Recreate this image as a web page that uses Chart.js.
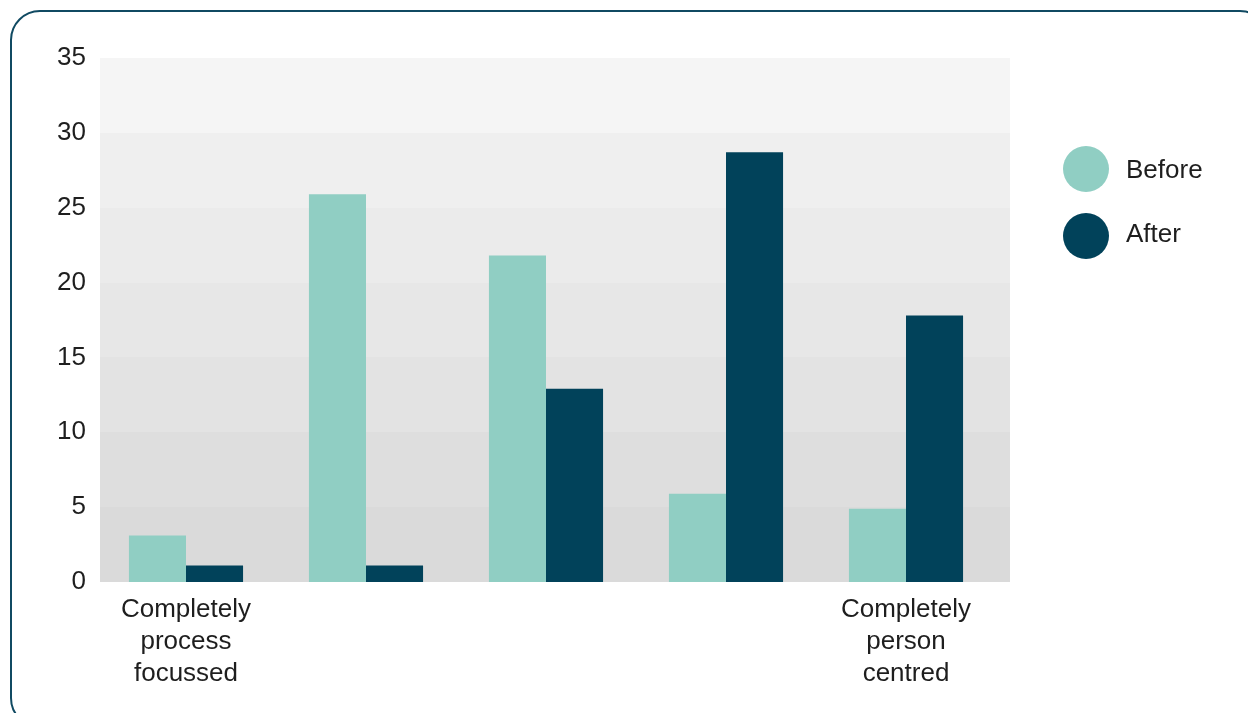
<!DOCTYPE html>
<html lang="en">
<head>
    <meta charset="UTF-8">
    <title>Before and after</title>
    <script src="https://cdn.jsdelivr.net/npm/chart.js"></script>
    <style>
        body {
            margin: 0;
            background: #fff;
            overflow: hidden;
        }
        .frame {
            position: absolute;
            left: 10px;
            top: 10px;
            width: 1260px;
            height: 718px;
            border: 2px solid #104a62;
            border-radius: 30px;
            box-sizing: border-box;
        }
        .chart-box {
            position: absolute;
            left: 0;
            top: 0;
            width: 1248px;
            height: 713px;
        }
    </style>
</head>
<body>
    <div class="frame"></div>
    <div class="chart-box"><canvas id="chart"></canvas></div>

    <script>
        const categories = [
            ['Completely', 'process', 'focussed'],
            '',
            '',
            '',
            ['Completely', 'person', 'centred']
        ];
        const seriesNames = ['Before', 'After'];
        const beforeValues = [3.1, 25.9, 21.8, 5.9, 4.9];
        const afterValues = [1.1, 1.1, 12.9, 28.7, 17.8];
        const yTicks = [0, 5, 10, 15, 20, 25, 30, 35];

        // grey bands behind the bars, light at the top, darker at the bottom
        const bandColors = ['#dadada', '#dedede', '#e3e3e3', '#e7e7e7', '#ebebeb', '#efefef', '#f5f5f5'];

        const FONT = '"Liberation Sans", Arial, sans-serif';

        const bandsPlugin = {
            id: 'bands',
            beforeDatasetsDraw(chart) {
                const ctx = chart.ctx;
                const y = chart.scales.y;
                const area = chart.chartArea;
                ctx.save();
                for (let i = 0; i < yTicks.length - 1; i++) {
                    const top = Math.round(y.getPixelForValue(yTicks[i + 1]));
                    const bottom = Math.round(y.getPixelForValue(yTicks[i]));
                    ctx.fillStyle = bandColors[i];
                    ctx.fillRect(area.left + 4, top, area.right - area.left + 10, bottom - top);
                }
                ctx.restore();
            }
        };

        const dotLegendPlugin = {
            id: 'dotLegend',
            afterDraw(chart) {
                const ctx = chart.ctx;
                const x = chart.chartArea.right + 90;
                ctx.save();
                ctx.font = '26px ' + FONT;
                ctx.textBaseline = 'middle';
                chart.data.datasets.forEach((ds, i) => {
                    const cy = 169 + i * 67;
                    ctx.fillStyle = ds.backgroundColor;
                    ctx.beginPath();
                    ctx.arc(x, cy, 23, 0, Math.PI * 2);
                    ctx.fill();
                    ctx.fillStyle = '#1e1e1e';
                    ctx.fillText(ds.label, x + 40, cy + (i ? -1 : 2));
                });
                ctx.restore();
            }
        };

        new Chart(document.getElementById('chart'), {
            type: 'bar',
            data: {
                labels: categories,
                datasets: [
                    {
                        label: seriesNames[0],
                        data: beforeValues,
                        backgroundColor: '#90cec3'
                    },
                    {
                        label: seriesNames[1],
                        data: afterValues,
                        backgroundColor: '#01425a'
                    }
                ]
            },
            options: {
                responsive: true,
                maintainAspectRatio: false,
                animation: false,
                layout: {
                    padding: { left: 0, right: 252, top: 58, bottom: 0 }
                },
                datasets: {
                    bar: {
                        categoryPercentage: 0.634,
                        barPercentage: 1
                    }
                },
                scales: {
                    x: {
                        grid: { display: false, drawTicks: false },
                        border: { display: false },
                        ticks: {
                            color: '#1e1e1e',
                            font: { family: FONT, size: 26, lineHeight: 1.23 },
                            padding: 12,
                            maxRotation: 0,
                            autoSkip: false
                        },
                        afterFit(scale) { scale.height = 131; }
                    },
                    y: {
                        min: 0,
                        max: 35,
                        grid: { display: false, drawTicks: false },
                        border: { display: false },
                        ticks: {
                            stepSize: 5,
                            color: '#1e1e1e',
                            font: { family: FONT, size: 26 },
                            padding: 10
                        },
                        afterFit(scale) { scale.width = 96; }
                    }
                },
                plugins: {
                    legend: { display: false },
                    tooltip: { enabled: false }
                }
            },
            plugins: [bandsPlugin, dotLegendPlugin]
        });
    </script>
</body>
</html>
